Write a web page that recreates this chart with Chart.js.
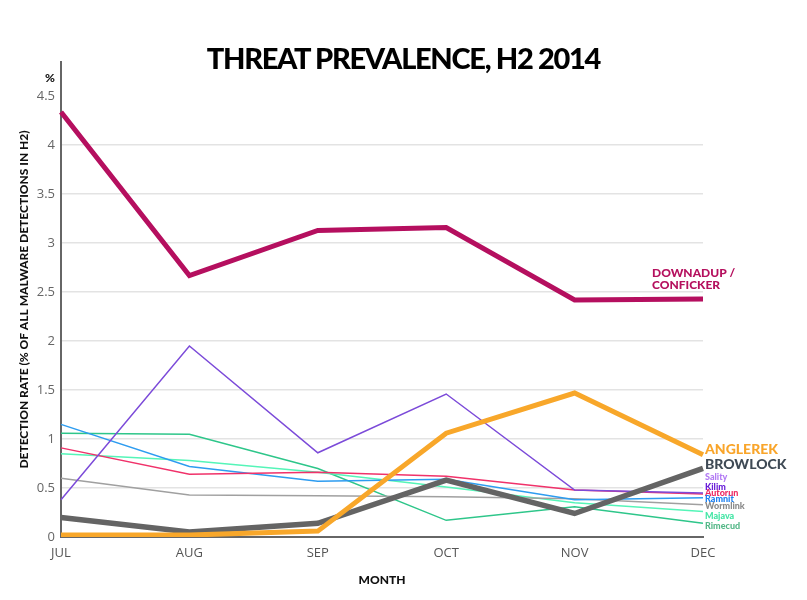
<!DOCTYPE html>
<html>
<head>
<meta charset="utf-8">
<script src="https://cdn.jsdelivr.net/npm/chart.js@4.4.1/dist/chart.umd.min.js"></script>
<style>
  html, body { margin: 0; padding: 0; background: #fff; }
  #wrap { position: relative; width: 807px; height: 600px; }
  #title {
    position: absolute; left: 0; width: 807px; top: 43px; margin: 0;
    text-align: center; font-family: "Lato", sans-serif; font-weight: 900;
    font-size: 29px; line-height: 29px; letter-spacing: -1.3px; color: #000;
  }
</style>
</head>
<body>
<div id="wrap">
  <canvas id="chart" width="807" height="600"></canvas>
  <h1 id="title">THREAT PREVALENCE, H2 2014</h1>
</div>
<script>
"use strict";

const months = ["JUL", "AUG", "SEP", "OCT", "NOV", "DEC"];
const yTicks = [0, 0.5, 1, 1.5, 2, 2.5, 3, 3.5, 4, 4.5];

const downadup = [4.34, 2.67, 3.13, 3.16, 2.42, 2.43];
const anglerek = [0.02, 0.02, 0.06, 1.06, 1.47, 0.84];
const browlock = [0.20, 0.05, 0.14, 0.58, 0.24, 0.70];
const kilim = [0.38, 1.95, 0.86, 1.46, 0.48, 0.45];
const autorun = [0.91, 0.64, 0.66, 0.62, 0.48, 0.44];
const ramnit = [1.15, 0.72, 0.57, 0.59, 0.38, 0.40];
const wormlink = [0.60, 0.43, 0.42, 0.41, 0.39, 0.33];
const majava = [0.85, 0.78, 0.66, 0.51, 0.35, 0.26];
const rimecud = [1.06, 1.05, 0.70, 0.17, 0.31, 0.14];

// end labels: text, colour, font size, y in data units
const endLabels = [
  { text: "ANGLEREK", color: "#f9a52a", size: 14, at: 0.89 },
  { text: "BROWLOCK", color: "#3f4a55", size: 14, at: 0.745 },
  { text: "Sality", color: "#b27af4", size: 9, at: 0.61 },
  { text: "Kilim", color: "#6a1fd8", size: 9, at: 0.51 },
  { text: "Autorun", color: "#ee2a62", size: 9, at: 0.45 },
  { text: "Ramnit", color: "#1e80f0", size: 9, at: 0.39 },
  { text: "Wormlink", color: "#8a8a8a", size: 9, at: 0.32 },
  { text: "Majava", color: "#45e6a6", size: 9, at: 0.21 },
  { text: "Rimecud", color: "#56b889", size: 9, at: 0.11 }
];

const line = (label, data, color, width) => ({
  label: label,
  data: data,
  borderColor: color,
  borderWidth: width,
  pointRadius: 0,
  tension: 0,
  fill: false,
  borderJoinStyle: "miter",
  borderCapStyle: "butt"
});

const extraText = {
  id: "extraText",
  afterDatasetsDraw(chart) {
    const { ctx, chartArea, scales } = chart;
    const y = scales.y;
    ctx.save();
    ctx.textBaseline = "middle";

    ctx.font = "900 12px Lato";
    ctx.fillStyle = "#111";
    ctx.textAlign = "center";
    ctx.fillText("%", 50, 78);

    ctx.textAlign = "left";
    ctx.font = "900 12px Lato";
    ctx.fillStyle = "#b5105e";
    ctx.fillText("DOWNADUP /", 652, y.getPixelForValue(2.69));
    ctx.fillText("CONFICKER", 652, y.getPixelForValue(2.57));

    endLabels.forEach(l => {
      ctx.font = "900 " + l.size + "px Lato";
      ctx.fillStyle = l.color;
      ctx.fillText(l.text, chartArea.right + 2, y.getPixelForValue(l.at));
    });
    ctx.restore();
  }
};

new Chart(document.getElementById("chart"), {
  type: "line",
  data: {
    labels: months,
    datasets: [
      line("Downadup / Conficker", downadup, "#b50f5f", 5),
      line("Anglerek", anglerek, "#f8a72a", 5),
      line("Browlock", browlock, "#646464", 5.5),
      line("Kilim", kilim, "#7c4bd9", 1.5),
      line("Autorun", autorun, "#f0326a", 1.5),
      line("Ramnit", ramnit, "#2d9cf0", 1.5),
      line("Wormlink", wormlink, "#a0a0a0", 1.5),
      line("Majava", majava, "#55f5b8", 1.5),
      line("Rimecud", rimecud, "#2ec68a", 1.5)
    ]
  },
  options: {
    responsive: false,
    animation: false,
    layout: { padding: { left: 0, right: 104, top: 62, bottom: 0 } },
    plugins: {
      legend: { display: false },
      tooltip: { enabled: false }
    },
    scales: {
      x: {
        grid: { display: false },
        border: { display: true, color: "#666", width: 2 },
        ticks: { color: "#555", font: { family: "Open Sans", size: 13 }, padding: 0, maxRotation: 0 },
        title: {
          display: true, text: "MONTH", color: "#111",
          font: { family: "Lato", weight: "900", size: 12 },
          padding: { top: 0, bottom: 13 }
        },
        afterFit: s => { s.height = 63; }
      },
      y: {
        min: 0,
        max: 4.85,
        afterBuildTicks: s => { s.ticks = yTicks.map(v => ({ value: v })); },
        grid: {
          drawTicks: false,
          color: c => (c.tick && (c.tick.value === 0 || c.tick.value === 4.5)) ? "rgba(0,0,0,0)" : "#e3e3e3",
          lineWidth: 1.5
        },
        border: { display: true, color: "#666", width: 2 },
        ticks: {
          color: "#666", font: { family: "Open Sans", size: 13 }, padding: 6,
          callback: v => String(v)
        },
        title: {
          display: true, text: "DETECTION RATE (% OF ALL MALWARE DETECTIONS IN H2)", color: "#111",
          font: { family: "Lato", weight: "900", size: 12 },
          padding: { top: 17, bottom: 0 }
        },
        afterFit: s => { s.width = 61; }
      }
    }
  },
  plugins: [extraText]
});
</script>
</body>
</html>
